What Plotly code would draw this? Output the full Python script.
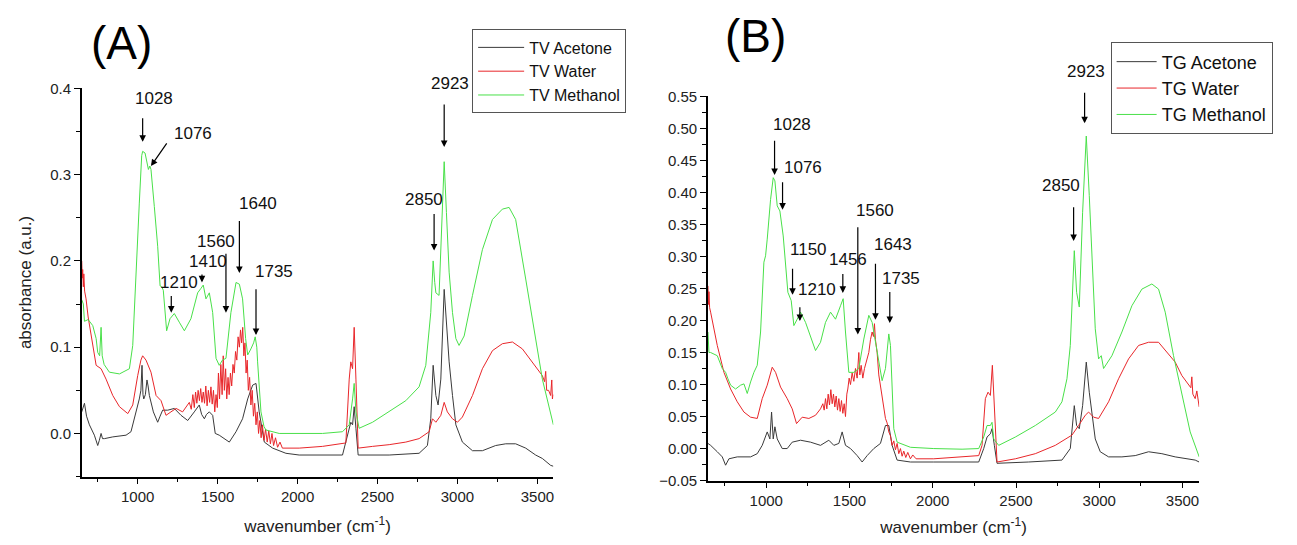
import plotly.graph_objects as go

# ---------------- Panel A (TV) data ----------------
tv_acetone_wn = [650, 660, 667, 680, 698, 729, 745, 750, 760, 771, 780, 792, 844, 927, 958, 979, 1010, 1020, 1027, 1033,
                 1038, 1048, 1058, 1065, 1073, 1098, 1125, 1140, 1156, 1188, 1229, 1271, 1313, 1354, 1385, 1400, 1417,
                 1430, 1448, 1469, 1485, 1510, 1542, 1573, 1615, 1656, 1688, 1719, 1740, 1760, 1792, 1844, 1927, 2010,
                 2281, 2313, 2333, 2344, 2354, 2365, 2379, 2573, 2760, 2812, 2833, 2848, 2865, 2879, 2896, 2917, 2931,
                 2948, 2969, 2990, 3031, 3094, 3156, 3239, 3302, 3364, 3427, 3489, 3531, 3583, 3600]
tv_acetone_abs = [0.025, 0.030, 0.035, 0.020, 0.010, -0.002, -0.010, -0.014, -0.008, 0.000, -0.006, -0.006, -0.004,
                  -0.002, 0.002, 0.017, 0.040, 0.050, 0.079, 0.045, 0.040, 0.045, 0.062, 0.055, 0.044, 0.025, 0.013,
                  0.020, 0.027, 0.027, 0.029, 0.021, 0.015, 0.025, 0.033, 0.022, 0.017, 0.022, 0.025, 0.021, 0.000,
                  -0.002, -0.006, -0.010, 0.002, 0.017, 0.040, 0.056, 0.058, 0.025, -0.010, -0.017, -0.023, -0.025,
                  -0.025, -0.002, 0.013, 0.010, 0.031, 0.006, -0.025, -0.025, -0.023, -0.014, 0.017, 0.079, 0.044,
                  0.033, 0.063, 0.167, 0.133, 0.083, 0.044, 0.010, -0.010, -0.020, -0.020, -0.014, -0.012, -0.012,
                  -0.017, -0.025, -0.029, -0.037, -0.038]

tv_water_wn = [650, 653, 656, 660, 663, 668, 677, 690, 708, 725, 740, 771, 802, 844, 886, 938, 969, 1000, 1020, 1031,
               1052, 1083, 1115, 1146, 1177, 1208, 1240, 1281, 1323, 1335, 1345, 1354, 1362, 1370, 1378, 1386, 1394,
               1402, 1410, 1418, 1426, 1434, 1442, 1450, 1458, 1466, 1474, 1482, 1490, 1498, 1505, 1512, 1520, 1528,
               1535, 1542, 1550, 1557, 1565, 1572, 1580, 1588, 1596, 1604, 1612, 1620, 1628, 1636, 1643, 1650, 1657,
               1664, 1671, 1678, 1685, 1692, 1700, 1708, 1716, 1724, 1732, 1740, 1748, 1756, 1764, 1772, 1780, 1790,
               1800, 1810, 1820, 1830, 1840, 1850, 1862, 1875, 1890, 1905, 1927, 2010, 2156, 2302, 2323, 2333, 2344,
               2354, 2365, 2379, 2469, 2573, 2677, 2760, 2823, 2844, 2865, 2896, 2917, 2937, 2969, 3000, 3031, 3094,
               3156, 3219, 3281, 3344, 3406, 3469, 3531, 3545, 3552, 3558, 3570, 3583, 3590, 3594, 3600]
tv_water_abs = [0.200, 0.180, 0.190, 0.170, 0.185, 0.165, 0.156, 0.135, 0.113, 0.095, 0.079, 0.075, 0.063, 0.044,
                0.031, 0.023, 0.033, 0.067, 0.085, 0.090, 0.085, 0.071, 0.044, 0.038, 0.021, 0.025, 0.029, 0.025,
                0.036, 0.028, 0.045, 0.030, 0.048, 0.035, 0.050, 0.038, 0.052, 0.036, 0.048, 0.035, 0.055, 0.032,
                0.050, 0.036, 0.054, 0.034, 0.050, 0.025, 0.045, 0.030, 0.070, 0.040, 0.080, 0.045, 0.090, 0.050,
                0.075, 0.040, 0.065, 0.045, 0.070, 0.055, 0.080, 0.070, 0.095, 0.085, 0.112, 0.100, 0.120, 0.105,
                0.123, 0.090, 0.105, 0.070, 0.085, 0.050, 0.065, 0.033, 0.050, 0.020, 0.035, 0.010, 0.025, 0.000,
                0.015, -0.005, 0.010, -0.008, 0.005, -0.010, 0.003, -0.012, 0.000, -0.014, -0.005, -0.016, -0.010,
                -0.017, -0.017, -0.017, -0.015, -0.011, 0.063, 0.083, 0.075, 0.123, 0.063, -0.017, -0.015, -0.013,
                -0.010, -0.006, 0.002, 0.017, 0.013, 0.021, 0.036, 0.025, 0.017, 0.013, 0.019, 0.044, 0.075, 0.096,
                0.104, 0.106, 0.098, 0.083, 0.067, 0.060, 0.072, 0.050, 0.050, 0.044, 0.062, 0.040, 0.045]

tv_methanol_wn = [650, 660, 667, 690, 719, 740, 750, 762, 771, 778, 790, 823, 886, 948, 969, 990, 1010, 1025, 1031,
                  1046, 1060, 1067, 1076, 1083, 1104, 1125, 1140, 1150, 1160, 1181, 1202, 1229, 1260, 1292, 1333,
                  1375, 1395, 1410, 1427, 1440, 1448, 1460, 1469, 1490, 1510, 1530, 1552, 1583, 1615, 1636, 1656,
                  1675, 1688, 1708, 1725, 1735, 1745, 1750, 1771, 1790, 1802, 1885, 2010, 2156, 2281, 2323, 2344,
                  2354, 2365, 2385, 2469, 2573, 2677, 2760, 2802, 2833, 2848, 2858, 2865, 2885, 2902, 2917, 2931,
                  2948, 2969, 2990, 3010, 3042, 3094, 3156, 3219, 3281, 3323, 3364, 3427, 3489, 3531, 3600]
tv_methanol_abs = [0.155, 0.150, 0.130, 0.132, 0.125, 0.110, 0.094, 0.090, 0.123, 0.090, 0.080, 0.071, 0.069, 0.075,
                   0.102, 0.194, 0.267, 0.322, 0.327, 0.325, 0.312, 0.306, 0.310, 0.306, 0.263, 0.217, 0.171, 0.170,
                   0.166, 0.119, 0.133, 0.139, 0.129, 0.119, 0.133, 0.163, 0.168, 0.172, 0.156, 0.160, 0.163, 0.150,
                   0.140, 0.087, 0.079, 0.085, 0.087, 0.140, 0.175, 0.173, 0.156, 0.110, 0.091, 0.098, 0.105, 0.112,
                   0.100, 0.083, 0.025, 0.008, 0.004, 0.000, 0.000, 0.000, 0.002, 0.010, 0.040, 0.058, 0.025, 0.006,
                   0.013, 0.025, 0.038, 0.054, 0.079, 0.140, 0.200, 0.175, 0.163, 0.160, 0.256, 0.315, 0.256, 0.187,
                   0.140, 0.110, 0.102, 0.113, 0.160, 0.213, 0.248, 0.260, 0.262, 0.248, 0.179, 0.110, 0.063, 0.010]

# ---------------- Panel B (TG) data ----------------
tg_acetone_wn = [650, 666, 706, 736, 756, 776, 826, 906, 946, 976, 1006, 1022, 1032, 1042, 1052, 1066, 1096, 1126,
                 1156, 1206, 1266, 1326, 1376, 1406, 1436, 1456, 1476, 1506, 1546, 1576, 1606, 1646, 1686, 1716,
                 1736, 1756, 1786, 1866, 2006, 2276, 2306, 2326, 2346, 2356, 2370, 2386, 2576, 2776, 2826, 2840,
                 2850, 2864, 2880, 2900, 2922, 2940, 2956, 2976, 3006, 3056, 3136, 3216, 3296, 3376, 3456, 3536,
                 3576, 3600]
tg_acetone_abs = [0.008, 0.005, -0.005, -0.013, -0.026, -0.016, -0.013, -0.013, -0.008, 0.005, 0.026, 0.015, 0.057,
                  0.015, 0.034, 0.015, 0.000, 0.000, 0.010, 0.013, 0.010, 0.005, 0.013, 0.005, 0.008, 0.026, 0.005,
                  0.000, -0.011, -0.021, -0.011, 0.000, 0.008, 0.036, 0.036, 0.005, -0.018, -0.021, -0.021, -0.021,
                  0.000, 0.018, 0.023, 0.031, 0.005, -0.023, -0.021, -0.018, 0.000, 0.036, 0.067, 0.036, 0.031,
                  0.067, 0.135, 0.088, 0.057, 0.015, -0.005, -0.013, -0.013, -0.011, -0.005, -0.008, -0.013, -0.016,
                  -0.018, -0.021]

tg_water_wn = [650, 653, 656, 660, 666, 706, 746, 786, 826, 866, 906, 946, 976, 1006, 1036, 1056, 1086, 1126, 1156,
               1182, 1216, 1256, 1296, 1326, 1340, 1348, 1356, 1364, 1372, 1380, 1388, 1396, 1404, 1412, 1420, 1428,
               1436, 1444, 1452, 1460, 1468, 1476, 1484, 1490, 1498, 1506, 1516, 1526, 1536, 1546, 1556, 1562, 1570,
               1580, 1590, 1600, 1616, 1626, 1636, 1644, 1650, 1656, 1666, 1676, 1686, 1696, 1706, 1716, 1726, 1736,
               1746, 1756, 1766, 1776, 1786, 1796, 1806, 1816, 1826, 1838, 1850, 1866, 1880, 1900, 2006, 2176, 2276,
               2296, 2316, 2332, 2346, 2358, 2370, 2386, 2496, 2616, 2736, 2796, 2836, 2876, 2916, 2936, 2966, 2996,
               3056, 3116, 3176, 3236, 3296, 3356, 3406, 3456, 3496, 3536, 3550, 3556, 3562, 3576, 3586, 3600]
tg_water_abs = [0.254, 0.225, 0.245, 0.220, 0.213, 0.161, 0.119, 0.093, 0.073, 0.057, 0.049, 0.047, 0.078, 0.099,
                0.127, 0.119, 0.096, 0.078, 0.062, 0.039, 0.049, 0.047, 0.052, 0.062, 0.070, 0.060, 0.078, 0.062,
                0.085, 0.068, 0.092, 0.070, 0.085, 0.065, 0.082, 0.060, 0.078, 0.058, 0.075, 0.055, 0.070, 0.050,
                0.085, 0.093, 0.110, 0.100, 0.118, 0.105, 0.125, 0.110, 0.150, 0.115, 0.130, 0.110, 0.125, 0.135,
                0.150, 0.170, 0.182, 0.175, 0.195, 0.170, 0.150, 0.115, 0.099, 0.080, 0.065, 0.047, 0.040, 0.026,
                0.020, 0.005, 0.012, -0.002, 0.008, -0.008, 0.000, -0.012, -0.004, -0.014, -0.006, -0.016, -0.010,
                -0.016, -0.016, -0.013, -0.011, 0.005, 0.078, 0.088, 0.083, 0.130, 0.057, -0.021, -0.016, -0.008,
                0.005, 0.015, 0.021, 0.036, 0.052, 0.057, 0.049, 0.047, 0.073, 0.109, 0.140, 0.161, 0.166, 0.166,
                0.150, 0.135, 0.114, 0.099, 0.095, 0.112, 0.085, 0.078, 0.090, 0.065]

tg_methanol_wn = [650, 656, 666, 706, 736, 756, 770, 786, 816, 846, 866, 886, 906, 926, 946, 966, 986, 996, 1006,
                  1026, 1042, 1052, 1066, 1082, 1102, 1116, 1130, 1150, 1166, 1186, 1206, 1236, 1266, 1296, 1326,
                  1356, 1386, 1416, 1446, 1462, 1476, 1496, 1526, 1556, 1586, 1616, 1636, 1656, 1676, 1696, 1716,
                  1736, 1746, 1766, 1786, 1866, 2006, 2176, 2276, 2306, 2326, 2346, 2356, 2366, 2396, 2496, 2616,
                  2736, 2776, 2806, 2826, 2840, 2850, 2864, 2880, 2900, 2922, 2940, 2956, 2976, 2996, 3012, 3026,
                  3076, 3136, 3196, 3256, 3316, 3356, 3396, 3446, 3496, 3546, 3600]
tg_methanol_abs = [0.182, 0.150, 0.150, 0.145, 0.125, 0.119, 0.109, 0.099, 0.093, 0.099, 0.101, 0.086, 0.104, 0.119,
                   0.130, 0.182, 0.291, 0.301, 0.327, 0.389, 0.423, 0.418, 0.379, 0.371, 0.332, 0.291, 0.244, 0.231,
                   0.192, 0.202, 0.213, 0.197, 0.176, 0.153, 0.166, 0.197, 0.213, 0.202, 0.223, 0.234, 0.182, 0.119,
                   0.119, 0.125, 0.171, 0.208, 0.197, 0.166, 0.130, 0.106, 0.125, 0.179, 0.161, 0.031, 0.010, 0.002,
                   0.000, -0.001, 0.000, 0.018, 0.036, 0.036, 0.041, 0.015, 0.005, 0.018, 0.036, 0.057, 0.073, 0.109,
                   0.161, 0.265, 0.309, 0.244, 0.221, 0.369, 0.488, 0.395, 0.291, 0.187, 0.140, 0.145, 0.125, 0.145,
                   0.182, 0.223, 0.249, 0.257, 0.249, 0.213, 0.145, 0.083, 0.026, -0.013]

# Peak labels
tv_peak_labels = ["1028", "1076", "1210", "1410", "1560", "1640", "1735", "2850", "2923"]
tg_peak_labels = ["1028", "1076", "1150", "1210", "1456", "1560", "1643", "1735", "2850", "2923"]

series_names_a = ["TV Acetone", "TV Water", "TV Methanol"]
series_names_b = ["TG Acetone", "TG Water", "TG Methanol"]

# ---------------- styling / layout ----------------
W, H = 1281, 529
SX, BX = 1.0, 8.5      # observed screen mapping: screen = S * internal + B
SY, BY = 0.966, 17.5


def px_x(p):
    return ((p - BX) / SX) / W


def px_y(p):
    return 1 - ((p - BY) / SY) / H


FONT = "Arial, Liberation Sans, sans-serif"
C_BLACK = "#3a3a3a"
C_RED = "#e8262a"
C_GREEN = "#49e049"

fig = go.Figure()

for wn, ab, name, col in zip([tv_acetone_wn, tv_water_wn, tv_methanol_wn],
                             [tv_acetone_abs, tv_water_abs, tv_methanol_abs],
                             series_names_a, [C_BLACK, C_RED, C_GREEN]):
    fig.add_trace(go.Scatter(x=wn, y=ab, mode="lines", name=name, line=dict(color=col, width=1),
                             xaxis="x", yaxis="y", legend="legend"))

for wn, ab, name, col in zip([tg_acetone_wn, tg_water_wn, tg_methanol_wn],
                             [tg_acetone_abs, tg_water_abs, tg_methanol_abs],
                             series_names_b, [C_BLACK, C_RED, C_GREEN]):
    fig.add_trace(go.Scatter(x=wn, y=ab, mode="lines", name=name, line=dict(color=col, width=1),
                             xaxis="x2", yaxis="y2", legend="legend2"))

axis_common = dict(showline=True, linecolor="black", linewidth=1.5, mirror=False, showgrid=False,
                   zeroline=False, ticks="outside", ticklen=6, tickwidth=1.2, tickcolor="black",
                   tickfont=dict(family=FONT, size=15, color="#222"))

xcommon = dict(axis_common, range=[650, 3600], tickvals=[1000, 1500, 2000, 2500, 3000, 3500],
               minor=dict(dtick=250, tick0=0, ticks="outside", ticklen=4, tickcolor="black", tickwidth=1),
               title=dict(text="wavenumber (cm<sup>-1</sup>)", font=dict(family=FONT, size=17, color="#222"),
                          standoff=16))

fig.update_layout(
    width=W, height=H, autosize=False,
    margin=dict(l=0, r=0, t=0, b=0),
    paper_bgcolor="white", plot_bgcolor="white",
    xaxis=dict(xcommon, domain=[px_x(82.3), px_x(554.3)], anchor="y"),
    yaxis=dict(axis_common, domain=[px_y(478), px_y(89)], anchor="x", range=[-0.05, 0.4],
               tickvals=[0.0, 0.1, 0.2, 0.3, 0.4], ticktext=["0.0", "0.1", "0.2", "0.3", "0.4"],
               minor=dict(dtick=0.05, tick0=0, ticks="outside", ticklen=4, tickcolor="black", tickwidth=1),
               title=dict(text="absorbance (a.u.)", font=dict(family=FONT, size=17, color="#222"), standoff=14)),
    xaxis2=dict(xcommon, domain=[px_x(709), px_x(1200.6)], anchor="y2"),
    yaxis2=dict(axis_common, domain=[px_y(482), px_y(97)], anchor="x2", range=[-0.05, 0.55],
                dtick=0.05, tick0=0, tickformat=".2f",
                minor=dict(dtick=0.025, tick0=0, ticks="outside", ticklen=4, tickcolor="black", tickwidth=1)),
    legend=dict(x=px_x(473), y=px_y(30), xanchor="left", yanchor="top", bgcolor="white",
                bordercolor="#555", borderwidth=1, font=dict(family=FONT, size=16, color="#111"),
                itemwidth=46),
    legend2=dict(x=px_x(1112), y=px_y(43), xanchor="left", yanchor="top", bgcolor="white",
                 bordercolor="#555", borderwidth=1, font=dict(family=FONT, size=18, color="#111"),
                 itemwidth=40),
    showlegend=True,
)

# Panel letters
fig.add_annotation(text="(A)", x=px_x(122), y=px_y(44), xref="paper", yref="paper", showarrow=False,
                   xanchor="center", yanchor="middle", font=dict(family=FONT, size=46, color="black"))
fig.add_annotation(text="(B)", x=px_x(757), y=px_y(37), xref="paper", yref="paper", showarrow=False,
                   xanchor="center", yanchor="middle", font=dict(family=FONT, size=46, color="black"))

# Peak annotations: text position (data coords), arrow tail, arrow tip
tv_text_pos = [(1104, 0.388), (1344, 0.348), (1256, 0.175), (1437, 0.199), (1490, 0.222), (1750, 0.267),
               (1854, 0.188), (2792, 0.271), (2937, 0.395)]
tv_arrows = [((1031, 0.367), (1031, 0.338)), ((1188, 0.338), (1083, 0.310)), ((1210, 0.161), (1210, 0.140)),
             ((1402, 0.186), (1402, 0.175)), ((1552, 0.210), (1552, 0.140)), ((1636, 0.248), (1636, 0.186)),
             ((1740, 0.169), (1740, 0.114)), ((2854, 0.256), (2854, 0.212)), ((2917, 0.383), (2917, 0.332))]
tg_text_pos = [(1156, 0.506), (1222, 0.439), (1252, 0.311), (1302, 0.248), (1492, 0.296), (1656, 0.372),
               (1760, 0.319), (1812, 0.266), (2770, 0.411), (2918, 0.545)]
tg_arrows = [((1050, 0.483), (1050, 0.427)), ((1098, 0.418), (1098, 0.373)), ((1158, 0.283), (1158, 0.240)),
             ((1202, 0.223), (1202, 0.199)), ((1460, 0.275), (1460, 0.243)), ((1550, 0.348), (1550, 0.178)),
             ((1656, 0.291), (1656, 0.201)), ((1742, 0.247), (1742, 0.196)), ((2846, 0.379), (2846, 0.324)),
             ((2912, 0.558), (2912, 0.508))]
# the two "2923" labels sit above the axis range, so place them by pixel position
top_label_px = {("x", "2923"): (451, 84.5), ("x2", "2923"): (1087, 72)}

for labels, tpos, arrows, xr, yr in [(tv_peak_labels, tv_text_pos, tv_arrows, "x", "y"),
                                     (tg_peak_labels, tg_text_pos, tg_arrows, "x2", "y2")]:
    for lab, (tx, ty), ((ax0, ay0), (x1, y1)) in zip(labels, tpos, arrows):
        if (xr, lab) in top_label_px:
            lx, ly = top_label_px[(xr, lab)]
            fig.add_annotation(text=lab, x=px_x(lx), y=px_y(ly), xref="paper", yref="paper", showarrow=False,
                               xanchor="center", yanchor="middle",
                               font=dict(family=FONT, size=17, color="#111"))
        else:
            fig.add_annotation(text=lab, x=tx, y=ty, xref=xr, yref=yr, showarrow=False,
                               xanchor="center", yanchor="middle",
                               font=dict(family=FONT, size=17, color="#111"))
        fig.add_annotation(text="", x=x1, y=y1, ax=ax0, ay=ay0, xref=xr, yref=yr, axref=xr, ayref=yr,
                           showarrow=True, arrowhead=2, arrowsize=1.1, arrowwidth=1.2, arrowcolor="black")

fig.write_html("out.html")
